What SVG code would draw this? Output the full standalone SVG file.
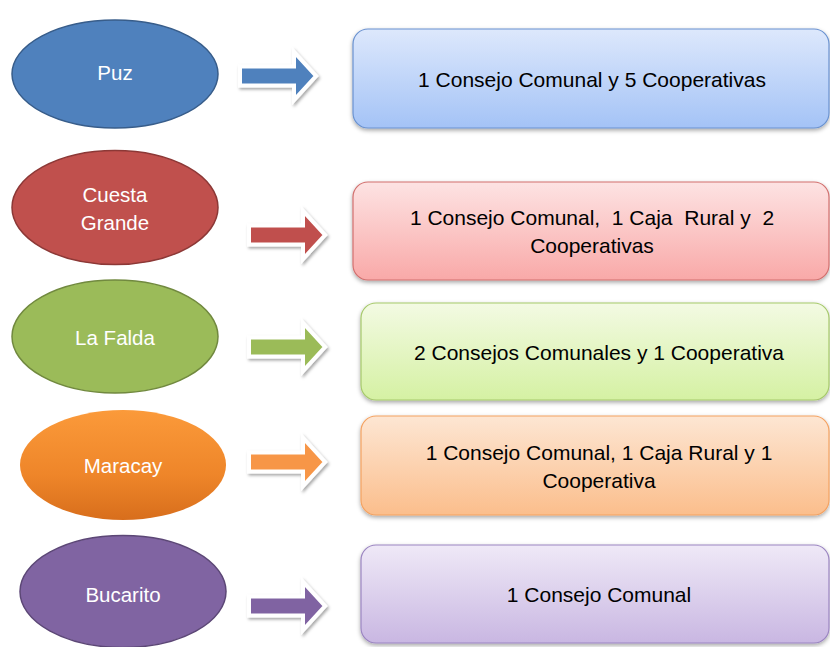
<svg xmlns="http://www.w3.org/2000/svg" width="830" height="647" viewBox="0 0 830 647">
<style>
.lbl{font-family:"Liberation Sans",Arial,sans-serif;font-size:20.5px;fill:#ffffff;text-anchor:middle}
.txt{font-family:"Liberation Sans",Arial,sans-serif;font-size:21px;fill:#000000;text-anchor:middle;white-space:pre}
.arr{stroke:#ffffff;stroke-width:4;stroke-linejoin:miter;filter:url(#ash)}
.box{stroke-width:1.2;filter:url(#bsh)}
.ell{stroke-width:1.5}
</style>
<defs>
<filter id="ash" x="-30%" y="-30%" width="160%" height="160%"><feDropShadow dx="1.5" dy="2" stdDeviation="1.5" flood-color="#000" flood-opacity="0.35"/></filter>
<filter id="bsh" x="-5%" y="-10%" width="110%" height="125%"><feDropShadow dx="0" dy="2" stdDeviation="2" flood-color="#000" flood-opacity="0.35"/></filter>
<linearGradient id="gB" x1="0" y1="0" x2="0" y2="1"><stop offset="0" stop-color="#dde8fc"/><stop offset="1" stop-color="#a4c3f6"/></linearGradient>
<linearGradient id="gR" x1="0" y1="0" x2="0" y2="1"><stop offset="0" stop-color="#fde3e3"/><stop offset="1" stop-color="#f9a9a8"/></linearGradient>
<linearGradient id="gG" x1="0" y1="0" x2="0" y2="1"><stop offset="0" stop-color="#f3fae3"/><stop offset="1" stop-color="#d5f1a3"/></linearGradient>
<linearGradient id="gO" x1="0" y1="0" x2="0" y2="1"><stop offset="0" stop-color="#fde6d3"/><stop offset="1" stop-color="#fbbe8c"/></linearGradient>
<linearGradient id="gP" x1="0" y1="0" x2="0" y2="1"><stop offset="0" stop-color="#efe9f7"/><stop offset="1" stop-color="#c9b7e2"/></linearGradient>
<linearGradient id="gOE" x1="0" y1="0" x2="0" y2="1"><stop offset="0" stop-color="#fb9a3a"/><stop offset="0.6" stop-color="#ee8529"/><stop offset="1" stop-color="#d86e1c"/></linearGradient>
</defs>

<g id="puz">
<ellipse class="ell" cx="115" cy="74" rx="103" ry="54" fill="#4f81bd" stroke="#385d8a"/>
<text class="lbl" x="115" y="80">Puz</text>
</g>
<g id="cuesta-grande">
<ellipse class="ell" cx="115" cy="207.5" rx="103" ry="57" fill="#c0504d" stroke="#8c3836"/>
<text class="lbl" x="115" y="202">Cuesta</text>
<text class="lbl" x="115" y="230">Grande</text>
</g>
<g id="la-falda">
<ellipse class="ell" cx="115" cy="336.5" rx="103" ry="56.5" fill="#9bbb59" stroke="#71893f"/>
<text class="lbl" x="115" y="345">La Falda</text>
</g>
<g id="maracay">
<ellipse cx="123" cy="465" rx="103" ry="55" fill="url(#gOE)" stroke="none"/>
<text class="lbl" x="123" y="473">Maracay</text>
</g>
<g id="bucarito">
<ellipse class="ell" cx="123" cy="591.5" rx="103" ry="56" fill="#8064a2" stroke="#5c4776"/>
<text class="lbl" x="123" y="602">Bucarito</text>
</g>

<g id="connectors">
<path class="arr" fill="#4f81bd" d="M240,66.5 H294 V52 L316,76 L294,100 V85.5 H240 Z"/>
<path class="arr" fill="#c0504d" d="M249,225.5 H303 V211 L325,235 L303,259 V244.5 H249 Z"/>
<path class="arr" fill="#9bbb59" d="M249,337.5 H303 V323 L325,347 L303,371 V356.5 H249 Z"/>
<path class="arr" fill="#f79646" d="M249,452.5 H303 V438 L325,462 L303,486 V471.5 H249 Z"/>
<path class="arr" fill="#8064a2" d="M249,596.5 H303 V582 L325,606 L303,630 V615.5 H249 Z"/>
</g>

<g id="box-puz">
<rect class="box" x="353" y="29" width="476" height="99" rx="15" fill="url(#gB)" stroke="#6a92d0"/>
<text class="txt" x="592" y="87">1 Consejo Comunal y 5 Cooperativas</text>
</g>
<g id="box-cuesta">
<rect class="box" x="353" y="182" width="476" height="98" rx="15" fill="url(#gR)" stroke="#d2706e"/>
<text class="txt" x="592" y="225">1 Consejo Comunal,  1 Caja  Rural y  2</text>
<text class="txt" x="592" y="253">Cooperativas</text>
</g>
<g id="box-falda">
<rect class="box" x="361" y="303" width="468" height="97" rx="15" fill="url(#gG)" stroke="#a6c96b"/>
<text class="txt" x="599" y="360">2 Consejos Comunales y 1 Cooperativa</text>
</g>
<g id="box-maracay">
<rect class="box" x="361" y="416" width="468" height="99" rx="15" fill="url(#gO)" stroke="#f4a261"/>
<text class="txt" x="599" y="460">1 Consejo Comunal, 1 Caja Rural y 1</text>
<text class="txt" x="599" y="488">Cooperativa</text>
</g>
<g id="box-bucarito">
<rect class="box" x="361" y="545" width="468" height="98" rx="15" fill="url(#gP)" stroke="#9b85c1"/>
<text class="txt" x="599" y="602">1 Consejo Comunal</text>
</g>
</svg>
